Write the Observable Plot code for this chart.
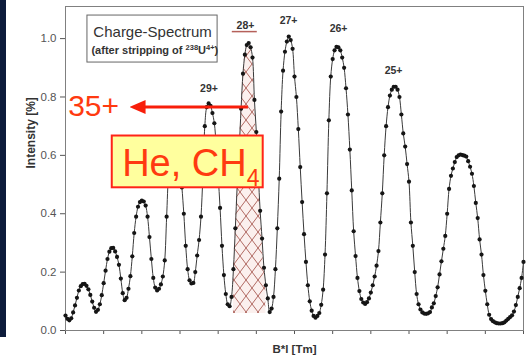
<!DOCTYPE html>
<html><head><meta charset="utf-8">
<script src="https://cdn.jsdelivr.net/npm/d3@7"></script>
<script src="https://cdn.jsdelivr.net/npm/@observablehq/plot@0.6"></script>
<style>
html,body{margin:0;padding:0;background:#fff;width:529px;height:360px;overflow:hidden;}
#chart{position:absolute;left:0;top:0;}
#strip{position:absolute;left:0;top:0;width:6px;height:337px;background:#0d1b3b;}
</style></head><body>
<div id="chart"></div><div id="strip"></div>
<script>
// Measured intensity per channel (channel index along B*l)
const intensity = [
0.051,0.040,0.035,0.042,0.062,0.086,0.112,0.137,0.152,0.159,
0.160,0.153,0.141,0.122,0.099,0.078,0.064,0.071,0.090,0.121,
0.162,0.205,0.245,0.270,0.282,0.283,0.271,0.252,0.225,0.178,
0.128,0.104,0.112,0.143,0.186,0.254,0.334,0.390,0.424,0.440,
0.445,0.442,0.428,0.390,0.320,0.245,0.180,0.147,0.137,0.143,
0.158,0.185,0.240,0.390,0.540,0.610,0.645,0.655,0.645,0.615,
0.560,0.490,0.400,0.290,0.210,0.172,0.161,0.163,0.200,0.257,
0.310,0.390,0.530,0.700,0.765,0.778,0.770,0.745,0.710,0.630,
0.530,0.420,0.290,0.190,0.125,0.090,0.083,0.115,0.210,0.350,
0.500,0.620,0.760,0.880,0.945,0.978,0.985,0.970,0.935,0.790,
0.680,0.540,0.410,0.315,0.215,0.155,0.110,0.063,0.075,0.115,
0.210,0.350,0.520,0.750,0.890,0.955,0.990,1.007,0.995,0.965,
0.870,0.800,0.690,0.560,0.440,0.330,0.235,0.155,0.100,0.068,
0.050,0.044,0.050,0.060,0.088,0.140,0.260,0.470,0.720,0.870,
0.930,0.960,0.972,0.970,0.960,0.935,0.900,0.830,0.740,0.620,
0.480,0.340,0.255,0.180,0.135,0.108,0.096,0.091,0.097,0.110,
0.130,0.155,0.185,0.222,0.272,0.370,0.470,0.600,0.700,0.765,
0.805,0.825,0.835,0.835,0.825,0.800,0.740,0.675,0.630,0.570,
0.510,0.370,0.290,0.200,0.125,0.090,0.072,0.062,0.058,0.057,
0.059,0.063,0.079,0.093,0.118,0.148,0.192,0.237,0.280,0.324,
0.400,0.485,0.530,0.555,0.577,0.594,0.600,0.603,0.601,0.599,
0.596,0.580,0.561,0.537,0.495,0.437,0.385,0.312,0.260,0.190,
0.136,0.090,0.054,0.039,0.032,0.028,0.025,0.024,0.024,0.025,
0.028,0.034,0.040,0.046,0.052,0.065,0.087,0.115,0.145,0.180,
0.235
];
const xTicks = [0,20,40,60,80,100,120,140,160,180,200,220,240];
const yTicks = [0.0,0.2,0.4,0.6,0.8,1.0];

// Charge-state labels
const peakNames = ["29+","28+","27+","26+","25+"];
const peakX = [75.2, 94.3, 116.9, 143.1, 171.9];
const peakY = [0.827, 1.043, 1.063, 1.035, 0.889];

// Hatched (selected) 28+ window
const hatchFrom = 88, hatchTo = 105, hatchBase = 0.058;

// Annotation texts
const xLabel = "B*l [Tm]";
const yLabel = "Intensity [%]";
const boxTitle = "Charge-Spectrum";
const boxSubParts = [{t:"(after stripping of "},{t:"238",sup:true},{t:"U"},{t:"4+",sup:true},{t:")"}];
const gasParts = [{t:"He, CH"},{t:"4",sub:true}];
const arrowLabel = "35+";

const RED = "#f81e0a", ORANGE = "#ff3a10";

const data = intensity.map((v, i) => ({i, v}));
const hatchData = data.filter(d => d.i >= hatchFrom && d.i <= hatchTo);
const boxSub = boxSubParts.map(p => p.t).join("");
const gas = gasParts.map(p => p.t).join("");

const svg = Plot.plot({
  width: 529, height: 360,
  marginLeft: 65, marginRight: 6, marginTop: 6, marginBottom: 30,
  style: {fontFamily: "'Liberation Sans', Arial, sans-serif", fontSize: "11.5px", color: "#555", background: "transparent", overflow: "visible"},
  x: {domain: [0, 240], ticks: xTicks, tickSize: 4, tickFormat: () => "", label: null},
  y: {domain: [0, 1.11], ticks: yTicks, tickSize: 5, tickPadding: 4, tickFormat: d => d.toFixed(1), label: null},
  marks: [
    Plot.areaY(hatchData, {x: "i", y1: () => hatchBase, y2: "v", fill: "url(#hatch)", curve: "catmull-rom"}),
    Plot.frame({stroke: "#808080"}),
    Plot.line(data, {x: "i", y: "v", stroke: "#3a3a3a", strokeWidth: 1, curve: "catmull-rom"}),
    Plot.dot(data, {x: "i", y: "v", r: 2.1, fill: "#151515", stroke: "none"}),
    Plot.text(peakNames, {x: (d, k) => peakX[k], y: (d, k) => peakY[k], text: d => d, fontWeight: "bold", fontSize: 10.5, fill: "#333"}),
    Plot.ruleY([{y: 1.024, x1: 87.4, x2: 100.5}], {y: "y", x1: "x1", x2: "x2", stroke: "#b5605a", strokeWidth: 1.5}),
    // legend box
    Plot.rect([{x1: 11.5, x2: 79.7, y1: 0.918, y2: 1.079}], {x1: "x1", x2: "x2", y1: "y1", y2: "y2", fill: "white", stroke: "#666", strokeWidth: 1}),
    Plot.text([boxTitle], {x: 14.6, y: 1.021, text: d => d, textAnchor: "start", fontSize: 15, fill: "#333"}),
    Plot.text([boxSub], {x: 13.6, y: 0.958, text: d => d, textAnchor: "start", fontSize: 11, fontWeight: "bold", fill: "#333"}),
    // arrow 35+
    Plot.link([{x1: 40.9, x2: 95.6, y: 0.7657}], {x1: "x1", x2: "x2", y1: "y", y2: "y", stroke: RED, strokeWidth: 3.2}),
    Plot.text([arrowLabel], {x: 1.4, y: 0.769, text: d => d, textAnchor: "start", fontSize: 30, fill: ORANGE}),
    // gas box
    Plot.rect([{x1: 24.5, x2: 103.6, y1: 0.4889, y2: 0.6663}], {x1: "x1", x2: "x2", y1: "y1", y2: "y2", fill: "#ffff9e", stroke: "#ff2418", strokeWidth: 2}),
    Plot.text([gas], {x: 29.7, y: 0.5726, text: d => d, textAnchor: "start", fontSize: 38, fill: ORANGE}),
    // axis titles
    Plot.text([yLabel], {frameAnchor: "left", dx: -34.5, rotate: -90, text: d => d, fontWeight: "bold", fontSize: 12, fill: "#333"}),
    Plot.text([xLabel], {frameAnchor: "bottom", dy: 22, text: d => d, fontWeight: "bold", fontSize: 11.5, fill: "#333"})
  ]
});

const s = d3.select(svg);
const defs = s.append("defs");
const pat = defs.append("pattern").attr("id", "hatch").attr("patternUnits", "userSpaceOnUse").attr("width", 12).attr("height", 16);
pat.append("rect").attr("width", 12).attr("height", 16).attr("fill", "#fbf0ee");
pat.append("path").attr("d", "M0,0L12,16M12,0L0,16").attr("stroke", "#a85a52").attr("stroke-width", 0.9).attr("fill", "none");
const mk = defs.append("marker").attr("id", "redhead").attr("markerUnits", "userSpaceOnUse")
  .attr("markerWidth", 16).attr("markerHeight", 14).attr("viewBox", "0 0 16 14")
  .attr("refX", 14).attr("refY", 7).attr("orient", "auto");
mk.append("path").attr("d", "M0,7L16,0L16,14Z").attr("fill", RED);
s.selectAll('g[aria-label="link"] path').attr("marker-start", "url(#redhead)");

function rich(node, parts, supSize, supDy) {
  const el = d3.select(node);
  el.text(null);
  let shift = 0;
  for (const p of parts) {
    const ts = el.append("tspan").text(p.t);
    let target = 0;
    if (p.sup) { ts.attr("font-size", supSize); target = -supDy; }
    if (p.sub) { ts.attr("font-size", supSize); target = supDy; }
    if (target !== shift) { ts.attr("dy", target - shift); shift = target; }
  }
}
s.selectAll("text").each(function() {
  const t = this.textContent;
  if (t === boxSub) rich(this, boxSubParts, 7.5, 4);
  else if (t === gas) rich(this, gasParts, 23, 10);
});

document.getElementById("chart").appendChild(svg);
</script>
</body></html>
